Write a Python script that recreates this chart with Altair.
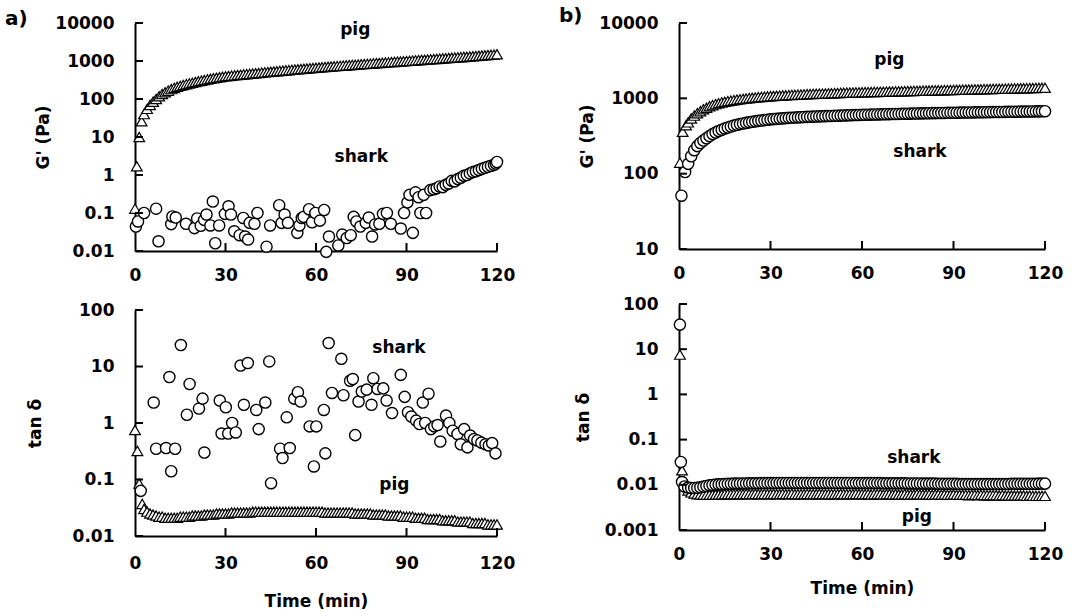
import altair as alt
import pandas as pd

FONT = "DejaVu Sans"
X_TICKS = [0, 30, 60, 90, 120]

# ---------------- data ----------------
# a) G' : pig (triangles) -- early points then one point per minute from t=3
PIG_A_G_EARLY = [(0.0, 0.13), (0.6, 1.7), (1.4, 10), (2.2, 26)]
PIG_A_G = [40, 55, 70, 85, 100, 118, 135, 150,
           166, 182, 196, 210, 222, 234, 246, 257, 268, 280,
           292, 304, 316, 328, 340, 351, 362, 373, 384, 395,
           403, 411, 419, 427, 435, 443, 451, 459, 467, 475,
           484, 493, 502, 511, 520, 529, 538, 547, 556, 565,
           575, 585, 595, 605, 615, 625, 635, 645, 655, 665,
           675, 685, 695, 705, 715, 725, 735, 745, 755, 765,
           776, 787, 798, 809, 820, 831, 842, 853, 864, 875,
           887, 899, 911, 923, 935, 947, 959, 971, 983, 995,
           1009, 1023, 1037, 1051, 1065, 1079, 1093, 1107, 1121, 1135,
           1151, 1167, 1183, 1199, 1215, 1231, 1247, 1263, 1279, 1295,
           1315, 1335, 1355, 1375, 1395, 1415, 1435, 1455, 1475, 1500]

# a) G' : shark (circles), (time, G')
SHARK_A_G = [(0.3, 0.044), (1.0, 0.06), (3.0, 0.10), (7.0, 0.13), (7.8, 0.018),
             (12.0, 0.051), (12.4, 0.081), (13.5, 0.076), (16.9, 0.052), (19.7, 0.04),
             (20.6, 0.072), (21.8, 0.046), (22.9, 0.066), (23.7, 0.091), (25.0, 0.047),
             (25.8, 0.2), (26.6, 0.016), (27.9, 0.047), (29.8, 0.095), (31.0, 0.15),
             (31.8, 0.091), (32.9, 0.033), (34.7, 0.026), (35.9, 0.074), (36.5, 0.024),
             (37.5, 0.02), (38.0, 0.055), (39.6, 0.052), (40.6, 0.10), (43.6, 0.013),
             (44.8, 0.047), (47.8, 0.16), (48.6, 0.055), (49.6, 0.091), (50.7, 0.055),
             (53.8, 0.03), (54.5, 0.047), (55.3, 0.074), (55.9, 0.079), (57.7, 0.126),
             (58.7, 0.057), (59.8, 0.10), (61.3, 0.063), (62.7, 0.12), (63.4, 0.0095),
             (64.3, 0.024), (67.4, 0.014), (68.7, 0.027), (70.2, 0.022), (71.5, 0.026),
             (72.5, 0.079), (73.4, 0.06), (74.7, 0.044), (76.5, 0.055), (77.5, 0.076),
             (78.6, 0.024), (79.6, 0.05), (81.0, 0.052), (82.2, 0.095), (83.5, 0.10),
             (84.8, 0.052), (88.1, 0.039), (89.2, 0.10), (90.3, 0.19), (91.0, 0.30),
             (92.1, 0.03), (93.0, 0.35), (94.0, 0.26), (94.6, 0.10), (95.7, 0.30),
             (96.5, 0.10), (97.9, 0.40), (99.0, 0.42), (100.0, 0.45), (101.0, 0.50),
             (102.0, 0.48), (103.0, 0.55), (104.0, 0.60), (105.0, 0.70), (106.0, 0.68),
             (107.0, 0.78), (108.0, 0.85), (109.0, 0.95), (110.0, 1.0), (111.0, 1.1),
             (112.0, 1.2), (113.0, 1.25), (114.0, 1.35), (115.0, 1.45), (116.0, 1.55),
             (117.0, 1.65), (118.0, 1.75), (119.0, 1.85), (119.6, 2.0), (120.0, 2.2)]

# a) tan delta : pig (triangles)
PIG_A_TAN_EARLY = [(0.0, 0.75), (0.8, 0.32), (1.4, 0.085), (2.4, 0.037)]
PIG_A_TAN = [0.030, 0.027, 0.025, 0.024, 0.023, 0.022, 0.022, 0.021,
             0.021, 0.021, 0.021, 0.021, 0.022, 0.022, 0.022, 0.022, 0.023, 0.023,
             0.023, 0.023, 0.024, 0.024, 0.024, 0.024, 0.025, 0.025, 0.025, 0.025,
             0.025, 0.026, 0.026, 0.026, 0.026, 0.026, 0.026, 0.026, 0.027, 0.027,
             0.027, 0.027, 0.027, 0.027, 0.027, 0.027, 0.027, 0.027, 0.027, 0.027,
             0.027, 0.027, 0.027, 0.027, 0.027, 0.027, 0.027, 0.027, 0.027, 0.027,
             0.027, 0.027, 0.026, 0.026, 0.026, 0.026, 0.026, 0.026, 0.026, 0.026,
             0.026, 0.026, 0.025, 0.025, 0.025, 0.025, 0.025, 0.025, 0.024, 0.024,
             0.024, 0.024, 0.024, 0.023, 0.023, 0.023, 0.023, 0.023, 0.022, 0.022,
             0.022, 0.022, 0.021, 0.021, 0.021, 0.021, 0.020, 0.020, 0.020, 0.020,
             0.020, 0.019, 0.019, 0.019, 0.019, 0.019, 0.018, 0.018, 0.018, 0.018,
             0.018, 0.017, 0.017, 0.017, 0.017, 0.017, 0.016, 0.016, 0.016, 0.016]

# a) tan delta : shark (circles)
SHARK_A_TAN = [(1.9, 0.063), (6.2, 2.3), (7.0, 0.35), (10.3, 0.36), (11.4, 6.5),
               (12.0, 0.14), (13.3, 0.35), (15.2, 24), (17.2, 1.4), (18.1, 4.9),
               (21.2, 1.8), (22.4, 2.7), (23.0, 0.30), (28.1, 2.5), (28.7, 0.65),
               (30.1, 1.9), (30.9, 0.65), (32.2, 1.0), (33.4, 0.68), (35.0, 10.4),
               (36.1, 2.1), (37.4, 11.5), (40.2, 1.7), (41.0, 0.78), (43.2, 2.3),
               (44.5, 12.3), (45.1, 0.086), (48.1, 0.35), (48.9, 0.24), (50.3, 1.26),
               (51.3, 0.36), (52.8, 2.7), (54.0, 3.5), (54.9, 2.4), (57.9, 0.87),
               (59.3, 0.17), (60.1, 0.87), (62.6, 1.7), (63.1, 0.29), (64.2, 26),
               (65.3, 3.4), (68.4, 13.7), (69.1, 3.1), (71.3, 5.6), (72.2, 6.0),
               (73.0, 0.61), (74.1, 2.4), (75.2, 3.6), (76.8, 3.9), (78.4, 2.1),
               (79.0, 6.2), (80.4, 4.0), (82.3, 4.1), (83.4, 2.5), (85.2, 1.5),
               (88.1, 7.1), (89.4, 2.9), (90.5, 1.55), (91.6, 1.3), (93.2, 1.1),
               (94.3, 0.96), (95.4, 2.3), (96.2, 1.0), (97.3, 3.3), (98.1, 0.78),
               (99.2, 0.87), (100.3, 0.92), (101.2, 0.47), (103.1, 1.35), (104.2, 1.0),
               (105.3, 0.73), (106.9, 0.64), (108.0, 0.42), (109.1, 0.78), (110.2, 0.37),
               (111.1, 0.6), (112.4, 0.52), (113.5, 0.49), (114.8, 0.45), (116.2, 0.42),
               (117.3, 0.4), (118.4, 0.44), (119.5, 0.29)]

# b) G' : pig (triangles)
PIG_B_G_EARLY = [(0.3, 140), (1.2, 360), (2.3, 440)]
PIG_B_G = [480, 540, 590, 635, 675, 715, 750, 785,
           812, 838, 860, 882, 900, 916, 932, 946, 960, 972,
           984, 995, 1006, 1016, 1026, 1035, 1044, 1052, 1060, 1068,
           1074, 1080, 1086, 1092, 1098, 1104, 1110, 1115, 1120, 1125,
           1130, 1135, 1140, 1144, 1148, 1152, 1156, 1160, 1164, 1168,
           1172, 1176, 1180, 1184, 1188, 1191, 1194, 1197, 1200, 1203,
           1206, 1209, 1212, 1215, 1218, 1221, 1224, 1227, 1230, 1233,
           1236, 1239, 1242, 1245, 1248, 1251, 1254, 1257, 1260, 1263,
           1266, 1269, 1272, 1275, 1278, 1281, 1284, 1287, 1290, 1293,
           1296, 1299, 1302, 1305, 1308, 1311, 1314, 1317, 1320, 1323,
           1326, 1329, 1332, 1335, 1338, 1341, 1344, 1347, 1350, 1353,
           1356, 1359, 1362, 1365, 1368, 1371, 1374, 1377, 1380, 1383]

# b) G' : shark (circles)
SHARK_B_G_EARLY = [(0.8, 51), (2.0, 105)]
SHARK_B_G = [135, 170, 205, 232, 255, 275, 295, 315,
             335, 352, 368, 383, 398, 410, 422, 434, 445, 455,
             464, 472, 480, 488, 495, 502, 508, 514, 520, 526,
             530, 534, 538, 542, 546, 550, 553, 556, 559, 562,
             565, 568, 570, 572, 574, 576, 578, 580, 582, 584,
             586, 588, 590, 592, 594, 596, 598, 600, 602, 604,
             606, 607, 608, 610, 611, 613, 614, 616, 617, 619,
             620, 621, 623, 624, 625, 627, 628, 629, 631, 632,
             633, 634, 636, 637, 638, 639, 640, 642, 643, 644,
             645, 646, 647, 648, 649, 650, 651, 652, 653, 654,
             655, 656, 657, 658, 659, 660, 661, 662, 663, 664,
             665, 666, 667, 668, 669, 670, 671, 672, 673, 675]

# b) tan delta : pig (triangles)
PIG_B_TAN_EARLY = [(0.3, 7.6), (1.0, 0.021), (1.8, 0.012)]
PIG_B_TAN = [0.0075, 0.0068, 0.0064, 0.0062, 0.0061, 0.0060, 0.0060, 0.0060,
             0.0060, 0.0061, 0.0061, 0.0061, 0.0062, 0.0062, 0.0062, 0.0062, 0.0062, 0.0062,
             0.0062, 0.0063, 0.0062, 0.0062, 0.0063, 0.0062, 0.0062, 0.0063, 0.0062, 0.0062,
             0.0063, 0.0062, 0.0062, 0.0063, 0.0062, 0.0062, 0.0063, 0.0062, 0.0062, 0.0062,
             0.0062, 0.0063, 0.0062, 0.0062, 0.0062, 0.0063, 0.0062, 0.0062, 0.0062, 0.0062,
             0.0062, 0.0062, 0.0063, 0.0062, 0.0062, 0.0062, 0.0062, 0.0063, 0.0062, 0.0062,
             0.0062, 0.0062, 0.0061, 0.0062, 0.0062, 0.0062, 0.0061, 0.0062, 0.0062, 0.0061,
             0.0062, 0.0061, 0.0061, 0.0062, 0.0061, 0.0061, 0.0061, 0.0062, 0.0061, 0.0061,
             0.0061, 0.0061, 0.0060, 0.0061, 0.0061, 0.0060, 0.0061, 0.0060, 0.0060, 0.0061,
             0.0060, 0.0060, 0.0060, 0.0060, 0.0059, 0.0060, 0.0060, 0.0059, 0.0060, 0.0059,
             0.0059, 0.0059, 0.0059, 0.0059, 0.0058, 0.0059, 0.0058, 0.0058, 0.0058, 0.0058,
             0.0058, 0.0058, 0.0058, 0.0057, 0.0058, 0.0057, 0.0057, 0.0057, 0.0057, 0.0057]

# b) tan delta : shark (circles)
SHARK_B_TAN_EARLY = [(0.3, 35), (0.6, 0.032), (1.0, 0.0115), (1.8, 0.0092)]
SHARK_B_TAN = [0.0087, 0.0085, 0.0085, 0.0086, 0.0088, 0.0091, 0.0094, 0.0097,
               0.0099, 0.0101, 0.0102, 0.0103, 0.0104, 0.0105, 0.0105, 0.0106, 0.0106, 0.0107,
               0.0107, 0.0107, 0.0108, 0.0108, 0.0108, 0.0108, 0.0109, 0.0109, 0.0109, 0.0109,
               0.0109, 0.0110, 0.0110, 0.0110, 0.0110, 0.0110, 0.0110, 0.0110, 0.0110, 0.0110,
               0.0110, 0.0110, 0.0110, 0.0110, 0.0110, 0.0110, 0.0110, 0.0110, 0.0110, 0.0110,
               0.0110, 0.0110, 0.0110, 0.0110, 0.0110, 0.0110, 0.0109, 0.0109, 0.0109, 0.0109,
               0.0109, 0.0109, 0.0109, 0.0109, 0.0109, 0.0109, 0.0108, 0.0108, 0.0108, 0.0108,
               0.0108, 0.0108, 0.0108, 0.0108, 0.0107, 0.0107, 0.0107, 0.0107, 0.0107, 0.0106,
               0.0106, 0.0106, 0.0106, 0.0106, 0.0105, 0.0105, 0.0105, 0.0105, 0.0105, 0.0105,
               0.0105, 0.0104, 0.0104, 0.0104, 0.0104, 0.0104, 0.0104, 0.0104, 0.0104, 0.0104,
               0.0104, 0.0104, 0.0104, 0.0104, 0.0104, 0.0104, 0.0104, 0.0104, 0.0105, 0.0105,
               0.0105, 0.0105, 0.0105, 0.0105, 0.0105, 0.0105, 0.0105, 0.0106, 0.0106, 0.0106]

# annotations (time, value, label)
TEXT_A_G = [(73, 6500, "pig"), (75, 3.0, "shark")]
TEXT_A_TAN = [(87.5, 21, "shark"), (86, 0.081, "pig")]
TEXT_B_G = [(69, 3230, "pig"), (79, 195, "shark")]
TEXT_B_TAN = [(77, 0.039, "shark"), (78, 0.0019, "pig")]

Y_G_A = [0.01, 0.1, 1, 10, 100, 1000, 10000]
Y_TAN_A = [0.01, 0.1, 1, 10, 100]
Y_G_B = [10, 100, 1000, 10000]
Y_TAN_B = [0.001, 0.01, 0.1, 1, 10, 100]


def series(early, values=(), start=3):
    rows = list(early) + [(start + i, v) for i, v in enumerate(values)]
    return pd.DataFrame(rows, columns=["t", "v"])


def panel(layers, ydom, yvals, w, h, ytitle, ytitle_pad, texts, letter=None,
          letter_xy=(0, 0), xtitle=None, xlab_pad=16, xtitle_pad=20):
    xenc = alt.X("t:Q", scale=alt.Scale(domain=[0, 120], nice=False, zero=False),
                 axis=alt.Axis(values=X_TICKS, format="d", ticks=False,
                               labelPadding=xlab_pad, title=xtitle,
                               titlePadding=xtitle_pad, labelFlush=False))
    yenc = alt.Y("v:Q", scale=alt.Scale(type="log", domain=ydom, nice=False),
                 axis=alt.Axis(values=yvals, format="~g", ticks=False,
                               labelPadding=21, title=ytitle,
                               titlePadding=ytitle_pad, labelOverlap=False))
    out = []
    for df, kind in layers:
        if kind == "tri":
            m = alt.Chart(df).mark_point(shape="triangle-up", size=115, filled=True,
                                         fill="white", stroke="black",
                                         strokeWidth=1.2, opacity=1)
        else:
            m = alt.Chart(df).mark_point(shape="circle", size=125, filled=True,
                                         fill="white", stroke="black",
                                         strokeWidth=1.4, opacity=1)
        out.append(m.encode(x=xenc, y=yenc))
    ytk = pd.DataFrame({"t": [0] * len(yvals), "v": yvals})
    out.append(alt.Chart(ytk).mark_tick(orient="horizontal", size=8, thickness=2,
                                        xOffset=4, color="black", opacity=1)
               .encode(x=xenc, y=yenc))
    xtk = pd.DataFrame({"t": [30, 60, 90, 120], "v": [ydom[0]] * 4})
    out.append(alt.Chart(xtk).mark_tick(orient="vertical", size=8, thickness=2,
                                        yOffset=-4, color="black", opacity=1)
               .encode(x=xenc, y=yenc))
    tdf = pd.DataFrame(texts, columns=["t", "v", "label"])
    out.append(alt.Chart(tdf).mark_text(font=FONT, fontSize=17, fontWeight="bold",
                                        color="black")
               .encode(x=xenc, y=yenc, text="label:N"))
    if letter:
        ldf = pd.DataFrame({"label": [letter]})
        out.append(alt.Chart(ldf).mark_text(font=FONT, fontSize=20, fontWeight="bold",
                                            color="black", align="left", baseline="top")
                   .encode(x=alt.value(letter_xy[0]), y=alt.value(letter_xy[1]),
                           text="label:N"))
    return alt.layer(*out).properties(width=w, height=h)


a_top = panel([(series(PIG_A_G_EARLY, PIG_A_G), "tri"), (series(SHARK_A_G), "circ")],
              [0.01, 10000], Y_G_A, 362, 228, "G' (Pa)", 2, TEXT_A_G,
              letter="a)", letter_xy=(-130, -14))
a_bot = panel([(series(PIG_A_TAN_EARLY, PIG_A_TAN), "tri"), (series(SHARK_A_TAN), "circ")],
              [0.01, 100], Y_TAN_A, 362, 226, "tan δ", 28, TEXT_A_TAN,
              xtitle="Time (min)", xlab_pad=19, xtitle_pad=22)
b_top = panel([(series(PIG_B_G_EARLY, PIG_B_G), "tri"), (series(SHARK_B_G_EARLY, SHARK_B_G), "circ")],
              [10, 10000], Y_G_B, 366, 226, "G' (Pa)", 2, TEXT_B_G,
              letter="b)", letter_xy=(-120, -17))
b_bot = panel([(series(PIG_B_TAN_EARLY, PIG_B_TAN), "tri"), (series(SHARK_B_TAN_EARLY, SHARK_B_TAN), "circ")],
              [0.001, 100], Y_TAN_B, 366, 226, "tan δ", 12, TEXT_B_TAN,
              xtitle="Time (min)", xlab_pad=16, xtitle_pad=18)

col_a = alt.vconcat(a_top, a_bot, spacing=18)
col_b = alt.vconcat(b_top, b_bot, spacing=14)

chart = alt.hconcat(col_a, col_b, spacing=44).properties(
    padding={"left": 5, "top": 6, "right": 0, "bottom": 0}
).configure_view(stroke=None).configure_axis(
    domainColor="black", domainWidth=2, labelColor="black", titleColor="black",
    labelFont=FONT, titleFont=FONT, labelFontWeight="bold", titleFontWeight="bold",
    labelFontSize=17, titleFontSize=17, grid=False
)

chart.save("out.html", embed_options={"renderer": "svg", "actions": False})
